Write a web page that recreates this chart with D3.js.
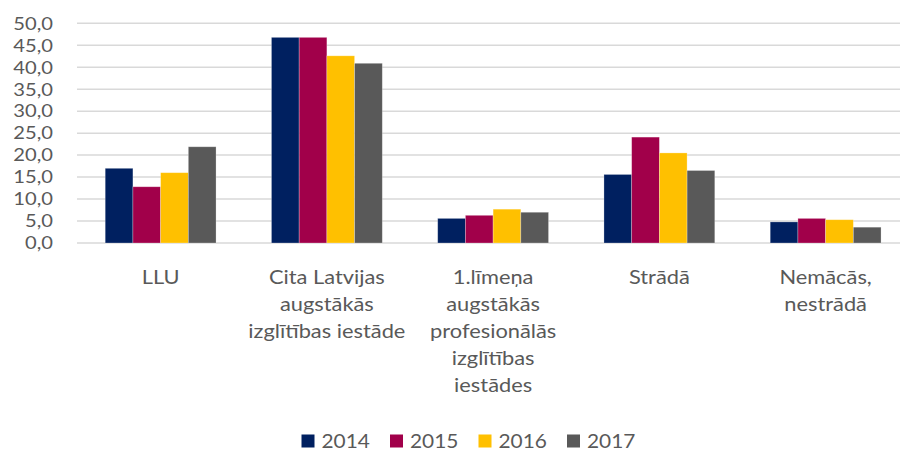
<!DOCTYPE html>
<html>
<head>
<meta charset="utf-8">
<script src="https://cdn.jsdelivr.net/npm/d3@7"></script>
<style>
  html, body { margin: 0; padding: 0; background: #fff; }
  svg { display: block; }
  text { font-family: Lato, "Open Sans", sans-serif; fill: #595959; }
</style>
</head>
<body>
<svg id="chart" width="900" height="452"></svg>
<script>
// Categories (each label split into its wrapped lines)
const categories = [
  ["LLU"],
  ["Cita Latvijas", "augstākās", "izglītības iestāde"],
  ["1.līmeņa", "augstākās", "profesionālās", "izglītības", "iestādes"],
  ["Strādā"],
  ["Nemācās,", "nestrādā"]
];
const years = ["2014", "2015", "2016", "2017"];
const values2014 = [17.0, 46.8, 5.6, 15.6, 4.8];
const values2015 = [12.8, 46.8, 6.3, 24.1, 5.6];
const values2016 = [16.0, 42.6, 7.7, 20.5, 5.3];
const values2017 = [21.9, 40.9, 7.0, 16.5, 3.6];
const yTicks = [0, 5, 10, 15, 20, 25, 30, 35, 40, 45, 50];
const colors = ["#002060", "#A1004A", "#FFC000", "#595959"];

const series = [values2014, values2015, values2016, values2017];
const catKeys = categories.map(c => c.join(" "));

const svg = d3.select("#chart");
const tickFont = 18;
const labelFont = 19.5;
const stretch = 1.12; // slightly wide lettering

const x0 = d3.scaleBand().domain(catKeys).range([77.5, 908.75]).padding(0);
const x1 = d3.scaleBand().domain(years).range([0, x0.bandwidth()])
  .paddingInner(0).paddingOuter(1);
const y = d3.scaleLinear().domain([0, 50]).range([243, 23.3]);

// Horizontal gridlines
svg.append("g")
  .selectAll("line")
  .data(yTicks)
  .join("line")
  .attr("x1", 77)
  .attr("x2", 900)
  .attr("y1", d => y(d))
  .attr("y2", d => y(d))
  .attr("stroke", "#d9d9d9")
  .attr("stroke-width", 1.5);

// Y tick labels
const fmt = d => d3.format(".1f")(d).replace(".", ",");
svg.append("g")
  .selectAll("text")
  .data(yTicks)
  .join("text")
  .attr("transform", d => `translate(53,${y(d)}) scale(${stretch},1)`)
  .attr("dy", "0.35em")
  .attr("text-anchor", "end")
  .style("font-size", tickFont + "px")
  .text(fmt);

// Bars
const groups = svg.append("g")
  .selectAll("g")
  .data(catKeys)
  .join("g")
  .attr("transform", d => `translate(${x0(d)},0)`);

groups.selectAll("rect")
  .data((d, i) => years.map((yr, j) => ({ yr, v: series[j][i], c: colors[j] })))
  .join("rect")
  .attr("x", d => x1(d.yr))
  .attr("width", x1.bandwidth())
  .attr("y", d => y(d.v))
  .attr("height", d => y(0) - y(d.v))
  .attr("fill", d => d.c)
  .attr("stroke", "rgba(255,255,255,0.35)")
  .attr("stroke-width", 0.75);

// Category labels
const lineH = 27;
svg.append("g")
  .selectAll("text")
  .data(categories)
  .join("text")
  .attr("text-anchor", "middle")
  .attr("transform", (d, i) =>
    `translate(${x0(catKeys[i]) + x0.bandwidth() / 2},277) scale(${stretch},1)`)
  .style("font-size", labelFont + "px")
  .each(function (lines) {
    const t = d3.select(this);
    lines.forEach((ln, k) => {
      t.append("tspan")
        .attr("x", 0)
        .attr("y", k * lineH)
        .attr("dy", "0.35em")
        .text(ln);
    });
  });

// Legend
const legendX = [301.5, 390, 478.5, 567];
const legend = svg.append("g")
  .selectAll("g")
  .data(years)
  .join("g")
  .attr("transform", (d, i) => `translate(${legendX[i]},441)`);
legend.append("rect")
  .attr("x", 0).attr("y", -6.5)
  .attr("width", 13).attr("height", 13)
  .attr("fill", (d, i) => colors[i]);
legend.append("text")
  .attr("transform", `translate(20,0) scale(1.07,1)`)
  .attr("dy", "0.35em")
  .style("font-size", labelFont + "px")
  .text(d => d);
</script>
</body>
</html>
